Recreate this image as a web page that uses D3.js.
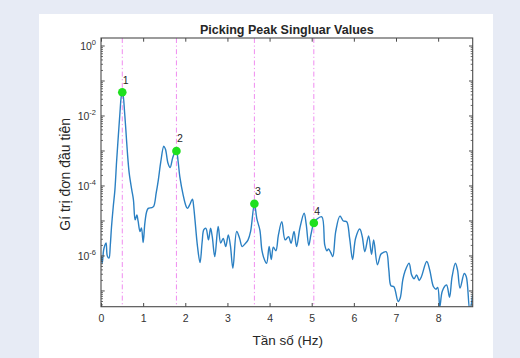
<!DOCTYPE html>
<html>
<head>
<meta charset="utf-8">
<script src="https://cdn.jsdelivr.net/npm/d3@7"></script>
<style>
  html, body { margin: 0; padding: 0; background: #e7ebf5; }
  svg { display: block; }
  text { font-family: "Liberation Sans", Arial, Helvetica, sans-serif; }
</style>
</head>
<body>
<svg id="chart" width="520" height="358"></svg>
<script>
// Frequency axis samples (Hz) of the first singular value spectrum
const freq = [
  0.00, 0.03, 0.06, 0.09, 0.12, 0.15, 0.19, 0.22, 0.25, 0.29, 0.33, 0.37, 0.41, 0.45, 0.48, 0.505,
  0.53, 0.56, 0.59, 0.63, 0.67, 0.73, 0.77, 0.81, 0.85, 0.88, 0.925, 0.96, 1.00, 1.04, 1.08, 1.12,
  1.20, 1.25, 1.31, 1.36, 1.42, 1.49, 1.53, 1.59, 1.64, 1.70, 1.75, 1.79, 1.83, 1.87, 1.95, 2.01,
  2.05, 2.10, 2.17, 2.20, 2.23, 2.29, 2.35, 2.40, 2.44, 2.49, 2.55, 2.60, 2.64, 2.70, 2.78, 2.84,
  2.90, 2.96, 3.02, 3.07, 3.13, 3.22, 3.29, 3.35, 3.42, 3.49, 3.55, 3.64, 3.70, 3.77, 3.82, 3.88,
  3.93, 3.99, 4.04, 4.09, 4.15, 4.21, 4.29, 4.37, 4.45, 4.51, 4.58, 4.64, 4.72, 4.82, 4.87, 4.93,
  4.98, 5.05, 5.12, 5.24, 5.31, 5.36, 5.40, 5.45, 5.50, 5.57, 5.67, 5.75, 5.83, 5.90, 5.97, 6.04,
  6.14, 6.20, 6.26, 6.35, 6.42, 6.47, 6.56, 6.64, 6.70, 6.77, 6.83, 6.88, 6.95, 7.05, 7.10, 7.16,
  7.21, 7.31, 7.37, 7.43, 7.49, 7.55, 7.60, 7.73, 7.80, 7.89, 7.95, 7.99, 8.04, 8.10, 8.20, 8.27,
  8.33, 8.41, 8.46, 8.52, 8.62, 8.67, 8.75, 8.82
];

// log10 of the first singular value at each frequency
const svLog10 = [
  -6.00, -6.20, -5.85, -5.70, -5.63, -6.00, -6.06, -5.70, -5.16, -4.60, -4.11, -3.30, -2.59, -1.90, -1.45, -1.32,
  -1.45, -1.90, -2.40, -3.10, -3.64, -4.11, -4.40, -4.97, -4.83, -5.00, -5.30, -5.20, -5.62, -5.07, -4.75, -4.64,
  -4.62, -4.58, -4.20, -3.83, -3.30, -2.86, -2.95, -3.35, -3.47, -3.20, -3.05, -3.00, -3.30, -3.73, -4.26, -4.55,
  -4.64, -4.55, -4.38, -4.60, -4.97, -5.73, -6.19, -5.60, -5.25, -5.21, -5.54, -5.21, -5.45, -6.02, -5.16, -5.63,
  -5.50, -5.73, -5.40, -5.70, -6.35, -5.30, -5.50, -5.73, -5.65, -5.54, -5.30, -4.51, -4.95, -5.26, -5.85, -6.11,
  -6.21, -5.73, -6.10, -5.75, -5.85, -5.40, -5.02, -5.54, -5.45, -5.64, -5.30, -5.73, -5.20, -4.78, -5.10, -5.70,
  -5.40, -5.06, -4.95, -4.88, -5.69, -5.85, -5.80, -5.90, -6.02, -5.30, -4.86, -5.00, -5.02, -5.50, -6.10, -5.50,
  -5.23, -5.45, -5.88, -5.43, -5.95, -5.54, -6.25, -5.95, -5.90, -5.88, -6.40, -6.85, -6.88, -7.30, -7.20, -6.69,
  -6.45, -6.21, -6.54, -6.65, -6.54, -6.70, -6.60, -6.16, -6.40, -6.88, -6.95, -6.90, -7.45, -7.00, -6.83, -7.18,
  -6.60, -6.21, -6.40, -6.92, -6.50, -6.60, -7.55, -7.10
];

// Picked peaks
const peakFreq = [0.505, 1.79, 3.64, 5.05];
const peakVal = [4.79e-2, 1.0e-3, 3.09e-5, 8.71e-6];
const peakLabel = ["1", "2", "3", "4"];

// Axis ticks
const xTicks = [0, 1, 2, 3, 4, 5, 6, 7, 8];
const yMajorExp = [-7, -6, -5, -4, -3, -2, -1, 0];
const yLabelExp = [0, -2, -4, -6];

const chartTitle = "Picking Peak Singluar Values";
const xTitle = "Tần số (Hz)";
const yTitle = "Gí trị đơn đầu tiên";

const W = 520, H = 358;
const plot = { left: 101, top: 38, right: 472.7, bottom: 306.7 };

const svg = d3.select("#chart");

// Figure panel
svg.append("rect")
  .attr("x", 39).attr("y", 14).attr("width", 454).attr("height", H - 14)
  .attr("fill", "#ffffff");

const x = d3.scaleLinear().domain([0, 8.82]).range([plot.left, plot.right]);
const y = d3.scaleLog().domain([Math.pow(10, -7.45), Math.pow(10, 0.229)]).range([plot.bottom, plot.top]);

const data = freq.map((f, i) => ({ f, v: Math.pow(10, svLog10[i]) }));

svg.append("defs").append("clipPath").attr("id", "plotClip")
  .append("rect")
  .attr("x", plot.left).attr("y", plot.top)
  .attr("width", plot.right - plot.left).attr("height", plot.bottom - plot.top);

// Peak markers (vertical dash-dot lines)
svg.append("g").selectAll("line").data(peakFreq).join("line")
  .attr("x1", d => x(d)).attr("x2", d => x(d))
  .attr("y1", plot.top).attr("y2", plot.bottom)
  .attr("stroke", "#f08cf0").attr("stroke-width", 1)
  .attr("stroke-dasharray", "5,2.5,1.2,2.5");

// Spectrum line
svg.append("path")
  .datum(data)
  .attr("clip-path", "url(#plotClip)")
  .attr("fill", "none")
  .attr("stroke", "#2b80c3")
  .attr("stroke-width", 1.4)
  .attr("stroke-linejoin", "round")
  .attr("d", d3.line().x(d => x(d.f)).y(d => y(d.v)).curve(d3.curveCatmullRom.alpha(0.5)));

// Peak dots and numbers
const peaks = peakFreq.map((f, i) => ({ f, v: peakVal[i], label: peakLabel[i] }));
svg.append("g").selectAll("circle").data(peaks).join("circle")
  .attr("cx", d => x(d.f)).attr("cy", d => y(d.v)).attr("r", 4.3)
  .attr("fill", "#1fe01f");
svg.append("g").selectAll("text").data(peaks).join("text")
  .attr("x", d => x(d.f) + 0.5).attr("y", d => y(d.v) - 8.5)
  .attr("font-size", 10.5).attr("fill", "#262626")
  .text(d => d.label);

// Axes box
const axisColor = "#4a4a4a";
svg.append("rect")
  .attr("x", plot.left).attr("y", plot.top)
  .attr("width", plot.right - plot.left).attr("height", plot.bottom - plot.top)
  .attr("fill", "none").attr("stroke", axisColor).attr("stroke-width", 1.1);

// X axis (ticks inward, mirrored on top)
const xAxisBottom = d3.axisBottom(x).tickValues(xTicks).tickSizeInner(-3.7).tickSizeOuter(0).tickPadding(8);
const gxb = svg.append("g").attr("transform", `translate(0,${plot.bottom})`).call(xAxisBottom);
gxb.select(".domain").remove();
gxb.selectAll("line").attr("stroke", axisColor);
gxb.selectAll("text").attr("font-size", 10.5).attr("fill", "#333").attr("dy", "0.71em");

const xAxisTop = d3.axisTop(x).tickValues(xTicks).tickSizeInner(-3.7).tickSizeOuter(0).tickFormat("");
const gxt = svg.append("g").attr("transform", `translate(0,${plot.top})`).call(xAxisTop);
gxt.select(".domain").remove();
gxt.selectAll("line").attr("stroke", axisColor);

// Y axis: decade ticks, minor ticks, labels every two decades
const [yLo, yHi] = y.domain();
const yMajor = yMajorExp.map(e => Math.pow(10, e)).filter(v => v >= yLo && v <= yHi);
const yMinor = [];
for (let e = -8; e <= 0; e++) {
  for (let m = 2; m <= 9; m++) {
    const v = m * Math.pow(10, e);
    if (v >= yLo && v <= yHi) yMinor.push(v);
  }
}

function yTicksOn(xPos, dir) {
  const g = svg.append("g");
  g.selectAll("line.major").data(yMajor).join("line")
    .attr("x1", xPos).attr("x2", xPos + dir * 3.7)
    .attr("y1", d => y(d)).attr("y2", d => y(d))
    .attr("stroke", axisColor);
  g.selectAll("line.minor").data(yMinor).join("line")
    .attr("x1", xPos).attr("x2", xPos + dir * 2)
    .attr("y1", d => y(d)).attr("y2", d => y(d))
    .attr("stroke", axisColor).attr("stroke-width", 0.8);
}
yTicksOn(plot.left, 1);
yTicksOn(plot.right, -1);

const yLab = svg.append("g").selectAll("text").data(yLabelExp).join("text")
  .attr("x", plot.left - 5).attr("y", d => y(Math.pow(10, d)) + 4)
  .attr("text-anchor", "end").attr("fill", "#333").attr("font-size", 10.5);
yLab.append("tspan").text("10");
yLab.append("tspan").attr("dy", -5).attr("font-size", 7.5).text(d => String(d));

// Titles
svg.append("text")
  .attr("x", (plot.left + plot.right) / 2).attr("y", 34)
  .attr("text-anchor", "middle").attr("font-size", 12.5).attr("font-weight", "bold").attr("fill", "#262626")
  .text(chartTitle);

svg.append("text")
  .attr("x", (plot.left + plot.right) / 2 + 1).attr("y", 345)
  .attr("text-anchor", "middle").attr("font-size", 13.5).attr("fill", "#262626")
  .text(xTitle);

svg.append("text")
  .attr("transform", `translate(70,${(plot.top + plot.bottom) / 2 + 2}) rotate(-90)`)
  .attr("text-anchor", "middle").attr("font-size", 14).attr("fill", "#262626")
  .text(yTitle);
</script>
</body>
</html>
